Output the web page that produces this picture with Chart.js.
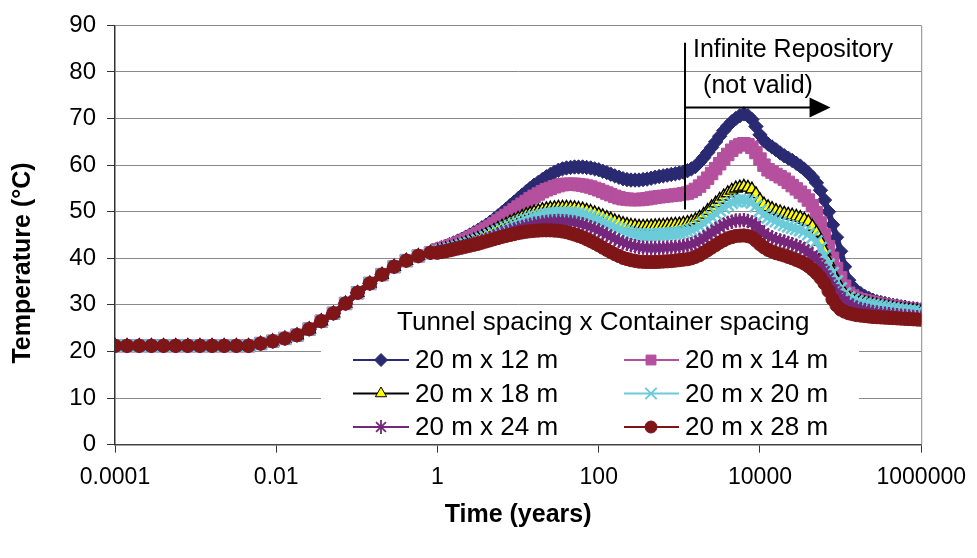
<!DOCTYPE html>
<html>
<head>
<meta charset="utf-8">
<script src="https://cdn.jsdelivr.net/npm/chart.js@4.4.1/dist/chart.umd.min.js"></script>
<style>
html,body{margin:0;padding:0;background:#fff;}
#wrap{width:977px;height:558px;position:relative;}
</style>
</head>
<body>
<div id="wrap"><canvas id="c" width="977" height="558"></canvas></div>
<script>
// ---------- DATA ----------
const times = [
  0.0001, 0.000141, 0.0002, 0.000283, 0.0004, 0.000566, 0.0008, 0.00113, 0.0016, 0.00226,
  0.0032, 0.00453, 0.0064, 0.00905, 0.0128, 0.0181, 0.0256, 0.0362, 0.0512, 0.0724,
  0.102, 0.145, 0.205, 0.29, 0.41, 0.579, 0.819,
  1, 1.12, 1.26, 1.41, 1.58, 1.78, 2, 2.24, 2.51, 2.82, 3.16, 3.55, 3.98, 4.47, 5.01, 5.62, 6.31, 7.08, 7.94, 8.91,
  10, 11.2, 12.6, 14.1, 15.8, 17.8, 20, 22.4, 25.1, 28.2, 31.6, 35.5, 39.8, 44.7, 50.1, 56.2, 63.1, 70.8, 79.4, 89.1,
  100, 112, 126, 141, 158, 178, 200, 224, 251, 282, 316, 355, 398, 447, 501, 562, 631, 708, 794, 891,
  1000, 1120, 1260, 1410, 1580, 1780, 2000, 2240, 2510, 2820, 3160, 3550, 3980, 4470, 5010, 5620, 6310, 7080, 7940, 8910,
  10000, 11200, 12600, 14100, 15800, 17800, 20000, 22400, 25100, 28200, 31600, 35500, 39800, 44700, 50100, 56200, 63100, 70800, 79400, 89100,
  100000, 112000, 126000, 141000, 158000, 178000, 200000, 224000, 251000, 282000, 316000, 355000, 398000, 447000, 501000, 562000, 631000, 708000, 794000, 891000,
  1000000
];

// shared heating phase (all layouts identical before ~1 year)
const earlyTemps = [
  21.2, 21.2, 21.2, 21.2, 21.2, 21.2, 21.2, 21.2, 21.2, 21.2,
  21.2, 21.2, 21.7, 22.2, 22.8, 23.5, 24.8, 26.5, 28.2, 30.3,
  32.6, 34.6, 36.5, 38.2, 39.5, 40.5, 41.2
];

const temp12 = earlyTemps.concat([
  42.0, 42.3, 42.6, 42.95, 43.3, 43.7, 44.1, 44.55, 45.0, 45.5, 46.0, 46.55, 47.1, 47.75, 48.4, 49.1, 49.8, 50.55, 51.3, 52.05,
  52.8, 53.55, 54.3, 55.0, 55.7, 56.3, 56.9, 57.5, 58.0, 58.5, 58.9, 59.2, 59.4, 59.5, 59.6, 59.6, 59.6, 59.5, 59.4, 59.2,
  59.0, 58.7, 58.4, 58.05, 57.7, 57.4, 57.1, 56.9, 56.8, 56.8, 56.8, 56.9, 57.0, 57.2, 57.4, 57.55, 57.7, 57.85, 58.0, 58.15,
  58.3, 58.5, 58.8, 59.2, 59.7, 60.6, 61.6, 62.7, 63.8, 65.0, 66.2, 67.4, 68.4, 69.3, 70.0, 70.6, 71.0, 70.6, 69.8, 68.3,
  66.5, 65.3, 64.5, 63.9, 63.3, 62.6, 62.0, 61.5, 61.0, 60.4, 59.8, 59.1, 58.3, 57.4, 56.2, 54.6, 52.5, 50.0, 47.2, 44.5,
  41.5, 38.2, 35.3, 33.9, 33.0, 32.4, 31.8, 31.4, 31.0, 30.7, 30.5, 30.3, 30.1, 29.9, 29.8, 29.6, 29.5, 29.3, 29.2, 29.1,
  29.0
]);
const temp14 = earlyTemps.concat([
  41.8, 42.05, 42.3, 42.6, 42.9, 43.25, 43.6, 44.0, 44.4, 44.85, 45.3, 45.8, 46.3, 46.85, 47.4, 48.0, 48.6, 49.2, 49.8, 50.4,
  51.0, 51.6, 52.2, 52.8, 53.3, 53.8, 54.3, 54.7, 55.0, 55.35, 55.6, 55.8, 55.9, 55.9, 55.9, 55.8, 55.7, 55.5, 55.3, 55.0,
  54.7, 54.35, 54.0, 53.65, 53.3, 53.0, 52.8, 52.7, 52.6, 52.6, 52.6, 52.7, 52.8, 52.95, 53.1, 53.2, 53.3, 53.4, 53.5, 53.6,
  53.7, 53.85, 54.0, 54.35, 54.8, 55.5, 56.3, 57.2, 58.2, 59.25, 60.3, 61.35, 62.3, 63.2, 63.9, 64.35, 64.6, 64.4, 63.8, 62.7,
  61.3, 60.0, 59.0, 58.5, 58.0, 57.5, 57.0, 56.3, 55.6, 54.9, 54.2, 53.4, 52.5, 51.3, 49.8, 47.6, 45.0, 42.5, 40.0, 37.8,
  35.8, 34.0, 32.5, 31.9, 31.4, 31.1, 30.9, 30.7, 30.5, 30.3, 30.1, 29.95, 29.8, 29.65, 29.5, 29.35, 29.2, 29.1, 29.0, 28.9,
  28.8
]);
const temp18 = earlyTemps.concat([
  41.5, 41.7, 41.9, 42.15, 42.4, 42.65, 42.9, 43.2, 43.5, 43.85, 44.2, 44.6, 45.0, 45.45, 45.9, 46.35, 46.8, 47.25, 47.7, 48.1,
  48.5, 48.9, 49.3, 49.6, 49.9, 50.15, 50.4, 50.55, 50.7, 50.8, 50.9, 50.9, 50.9, 50.85, 50.8, 50.65, 50.5, 50.25, 50.0, 49.7,
  49.4, 49.05, 48.7, 48.35, 48.0, 47.7, 47.4, 47.2, 47.0, 46.9, 46.8, 46.8, 46.8, 46.85, 46.9, 46.95, 47.0, 47.1, 47.2, 47.25,
  47.3, 47.45, 47.6, 47.85, 48.2, 48.75, 49.4, 50.2, 51.0, 51.8, 52.6, 53.3, 54.0, 54.55, 55.0, 55.25, 55.4, 55.2, 54.8, 53.8,
  52.5, 51.6, 51.0, 50.6, 50.2, 49.9, 49.6, 49.4, 49.2, 48.95, 48.7, 48.3, 47.8, 46.8, 45.5, 43.6, 41.5, 39.2, 37.0, 35.1,
  33.5, 32.4, 31.6, 31.2, 30.8, 30.6, 30.4, 30.2, 30.0, 29.85, 29.7, 29.55, 29.4, 29.25, 29.1, 29.0, 28.9, 28.8, 28.7, 28.6,
  28.5
]);
const temp20 = earlyTemps.concat([
  41.4, 41.6, 41.8, 42.0, 42.2, 42.45, 42.7, 42.95, 43.2, 43.5, 43.8, 44.15, 44.5, 44.9, 45.3, 45.7, 46.1, 46.5, 46.9, 47.25,
  47.6, 47.95, 48.3, 48.6, 48.9, 49.1, 49.3, 49.45, 49.6, 49.7, 49.8, 49.8, 49.8, 49.75, 49.7, 49.55, 49.4, 49.15, 48.9, 48.55,
  48.2, 47.8, 47.4, 47.0, 46.6, 46.25, 45.9, 45.65, 45.4, 45.25, 45.1, 45.05, 45.0, 45.05, 45.1, 45.15, 45.2, 45.25, 45.3, 45.4,
  45.5, 45.65, 45.8, 46.05, 46.4, 46.9, 47.5, 48.2, 48.9, 49.6, 50.3, 50.9, 51.5, 51.95, 52.3, 52.45, 52.5, 52.3, 52.0, 51.2,
  50.2, 49.4, 48.8, 48.4, 48.0, 47.6, 47.2, 46.9, 46.6, 46.35, 46.1, 45.7, 45.2, 44.5, 43.6, 42.2, 40.5, 38.6, 36.8, 35.0,
  33.5, 32.4, 31.6, 31.1, 30.7, 30.45, 30.2, 30.05, 29.9, 29.75, 29.6, 29.45, 29.3, 29.15, 29.0, 28.9, 28.8, 28.7, 28.6, 28.5,
  28.4
]);
const temp24 = earlyTemps.concat([
  41.3, 41.45, 41.6, 41.8, 42.0, 42.2, 42.4, 42.65, 42.9, 43.15, 43.4, 43.7, 44.0, 44.3, 44.6, 44.95, 45.3, 45.6, 45.9, 46.2,
  46.5, 46.75, 47.0, 47.2, 47.4, 47.55, 47.7, 47.8, 47.9, 47.95, 48.0, 47.95, 47.9, 47.8, 47.7, 47.5, 47.3, 47.0, 46.7, 46.35,
  46.0, 45.55, 45.1, 44.65, 44.2, 43.8, 43.4, 43.1, 42.8, 42.6, 42.4, 42.3, 42.2, 42.2, 42.2, 42.25, 42.3, 42.35, 42.4, 42.45,
  42.5, 42.65, 42.8, 43.0, 43.3, 43.8, 44.3, 44.9, 45.5, 46.1, 46.7, 47.15, 47.6, 47.85, 48.1, 48.15, 48.2, 48.0, 47.7, 46.9,
  46.0, 45.35, 44.8, 44.45, 44.1, 43.85, 43.6, 43.3, 43.0, 42.7, 42.4, 41.9, 41.3, 40.6, 39.8, 38.6, 37.2, 35.7, 34.2, 32.8,
  31.6, 30.8, 30.2, 29.8, 29.4, 29.15, 28.9, 28.7, 28.5, 28.35, 28.2, 28.1, 28.0, 27.9, 27.8, 27.7, 27.6, 27.5, 27.4, 27.35,
  27.3
]);
const temp28 = earlyTemps.concat([
  41.2, 41.35, 41.5, 41.7, 41.9, 42.1, 42.3, 42.5, 42.7, 42.9, 43.1, 43.35, 43.6, 43.85, 44.1, 44.35, 44.6, 44.8, 45.0, 45.2,
  45.4, 45.55, 45.7, 45.8, 45.9, 45.95, 46.0, 46.0, 46.0, 45.95, 45.9, 45.75, 45.6, 45.35, 45.1, 44.8, 44.5, 44.1, 43.7, 43.25,
  42.8, 42.3, 41.8, 41.35, 40.9, 40.5, 40.1, 39.85, 39.6, 39.45, 39.3, 39.25, 39.2, 39.2, 39.2, 39.25, 39.3, 39.35, 39.4, 39.5,
  39.6, 39.7, 39.8, 40.0, 40.3, 40.7, 41.2, 41.75, 42.3, 42.85, 43.4, 43.85, 44.3, 44.55, 44.8, 44.85, 44.9, 44.75, 44.5, 43.8,
  43.0, 42.35, 41.8, 41.45, 41.1, 40.85, 40.6, 40.3, 40.0, 39.65, 39.3, 38.85, 38.3, 37.6, 36.8, 35.8, 34.6, 33.0, 31.2, 29.9,
  29.0, 28.55, 28.2, 28.0, 27.8, 27.7, 27.6, 27.5, 27.4, 27.35, 27.3, 27.25, 27.2, 27.15, 27.1, 27.05, 27.0, 26.95, 26.9, 26.85,
  26.8
]);

const seriesLabels = ['20 m x 12 m', '20 m x 14 m', '20 m x 18 m', '20 m x 20 m', '20 m x 24 m', '20 m x 28 m'];
const xTickValues = [0.0001, 0.01, 1, 100, 10000, 1000000];
const xTickLabels = ['0.0001', '0.01', '1', '100', '10000', '1000000'];
const xTitle = 'Time (years)';
const yTitle = 'Temperature (°C)';
const legendTitle = 'Tunnel spacing x Container spacing';
const annotationTime = 1170;           // years, vertical marker
const annotationTop = 86.3;            // °C
const annotationBottom = 50.5;         // °C
const arrowLevel = 72.4;               // °C
const arrowEndTime = 75000;            // years
const annotationLines = ['Infinite Repository', '(not valid)'];

// ---------- STYLES ----------
const FONT = '"Liberation Sans", Arial, sans-serif';
// r = marker radius in the plot, lr = marker radius in the legend
const styles = [
  {color: '#2A2A72', fill: '#2A2A72', point: 'rectRot', r: 7.2, lr: 6.5, bw: 1},
  {color: '#B5509E', fill: '#B5509E', point: 'rect', r: 8.8, lr: 7, bw: 1},
  {color: '#000000', fill: '#FFFF00', point: 'triangle', r: 7.2, lr: 6.5, bw: 1.4},
  {color: '#6CCBD9', fill: '#6CCBD9', point: 'crossRot', r: 8.6, lr: 8, bw: 2.6},
  {color: '#75277B', fill: '#75277B', point: 'star', r: 7.2, lr: 7, bw: 2.2},
  {color: '#7E1517', fill: '#7E1517', point: 'circle', r: 6.6, lr: 6, bw: 1}
];
const seriesValues = [temp12, temp14, temp18, temp20, temp24, temp28];

const datasets = seriesValues.map((vals, i) => ({
  label: seriesLabels[i],
  data: times.map((t, j) => ({x: t, y: vals[j]})),
  borderColor: styles[i].color,
  backgroundColor: styles[i].fill,
  pointBackgroundColor: styles[i].fill,
  pointBorderColor: styles[i].color,
  pointStyle: styles[i].point,
  pointRadius: styles[i].r,
  pointHoverRadius: styles[i].r,
  pointBorderWidth: styles[i].bw,
  borderWidth: 6,
  borderJoinStyle: 'round',
  borderCapStyle: 'round',
  tension: 0,
  fill: false,
  order: 6 - i
}));

function drawMarker(ctx, st, x, y) {
  const r = st.lr;
  ctx.save();
  ctx.fillStyle = st.fill;
  ctx.strokeStyle = st.color;
  ctx.lineWidth = Math.min(st.bw, 2);
  ctx.beginPath();
  if (st.point === 'circle') {
    ctx.arc(x, y, r, 0, Math.PI * 2);
    ctx.fill(); ctx.stroke();
  } else if (st.point === 'rect') {
    const s = r * Math.SQRT1_2;
    ctx.rect(x - s, y - s, 2 * s, 2 * s);
    ctx.fill(); ctx.stroke();
  } else if (st.point === 'rectRot') {
    ctx.moveTo(x, y - r); ctx.lineTo(x + r, y); ctx.lineTo(x, y + r); ctx.lineTo(x - r, y); ctx.closePath();
    ctx.fill(); ctx.stroke();
  } else if (st.point === 'triangle') {
    ctx.lineWidth = 1;
    ctx.moveTo(x, y - r);
    ctx.lineTo(x + r * Math.sin(Math.PI * 2 / 3), y - r * Math.cos(Math.PI * 2 / 3));
    ctx.lineTo(x - r * Math.sin(Math.PI * 2 / 3), y - r * Math.cos(Math.PI * 2 / 3));
    ctx.closePath();
    ctx.fill(); ctx.stroke();
  } else if (st.point === 'crossRot') {
    const d = r * Math.SQRT1_2;
    ctx.moveTo(x - d, y - d); ctx.lineTo(x + d, y + d);
    ctx.moveTo(x + d, y - d); ctx.lineTo(x - d, y + d);
    ctx.stroke();
  } else if (st.point === 'star') {
    const d = r * Math.SQRT1_2;
    ctx.lineWidth = 1.8;
    ctx.moveTo(x - d, y - d); ctx.lineTo(x + d, y + d);
    ctx.moveTo(x + d, y - d); ctx.lineTo(x - d, y + d);
    ctx.moveTo(x, y - r); ctx.lineTo(x, y + r);
    ctx.moveTo(x - r, y); ctx.lineTo(x + r, y);
    ctx.stroke();
  }
  ctx.restore();
}

const decorPlugin = {
  id: 'decor',
  beforeDatasetsDraw(chart) {
    const ctx = chart.ctx;
    const a = chart.chartArea;
    ctx.save();
    // right border of plot area
    ctx.strokeStyle = '#888';
    ctx.lineWidth = 1;
    ctx.beginPath();
    ctx.moveTo(a.right + 0.5, a.top);
    ctx.lineTo(a.right + 0.5, a.bottom);
    ctx.stroke();
    // y axis title
    ctx.fillStyle = '#000';
    ctx.font = 'bold 25px ' + FONT;
    ctx.textAlign = 'center';
    ctx.textBaseline = 'middle';
    ctx.translate(23, 263);
    ctx.rotate(-Math.PI / 2);
    ctx.fillText(yTitle, 0, 0);
    ctx.setTransform(1, 0, 0, 1, 0, 0);
    // legend box
    const lx = 321, ly = 338, lw = 538, lh = 105;
    ctx.fillStyle = '#fff';
    ctx.fillRect(lx, ly, lw, lh);
    ctx.fillStyle = '#000';
    ctx.font = '26px ' + FONT;
    ctx.textBaseline = 'middle';
    ctx.textAlign = 'left';
    ctx.fillText(legendTitle, 397, 323);
    const cols = [{l0: 353, l1: 409, m: 381, t: 415}, {l0: 624, l1: 679, m: 651, t: 685}];
    const rows = [360, 393.5, 427];
    for (let i = 0; i < seriesLabels.length; i++) {
      const c = cols[i % 2], y = rows[Math.floor(i / 2)];
      ctx.strokeStyle = styles[i].color;
      ctx.lineWidth = 2;
      ctx.beginPath();
      ctx.moveTo(c.l0, y); ctx.lineTo(c.l1, y);
      ctx.stroke();
      drawMarker(ctx, styles[i], c.m, y);
      ctx.fillStyle = '#000';
      ctx.fillText(seriesLabels[i], c.t, y + 1);
    }
    ctx.restore();
  },
  afterDatasetsDraw(chart) {
    const ctx = chart.ctx;
    const xs = chart.scales.x, ys = chart.scales.y;
    const x0 = Math.round(xs.getPixelForValue(annotationTime));
    const yTop = ys.getPixelForValue(annotationTop);
    const yBot = ys.getPixelForValue(annotationBottom);
    const yArr = ys.getPixelForValue(arrowLevel);
    const xTip = xs.getPixelForValue(arrowEndTime);
    ctx.save();
    ctx.strokeStyle = '#000';
    ctx.fillStyle = '#000';
    ctx.lineWidth = 2;
    ctx.beginPath();
    ctx.moveTo(x0, yTop); ctx.lineTo(x0, yBot);
    ctx.moveTo(x0, yArr); ctx.lineTo(xTip - 20, yArr);
    ctx.stroke();
    ctx.beginPath();
    ctx.moveTo(xTip, yArr);
    ctx.lineTo(xTip - 21, yArr - 10);
    ctx.lineTo(xTip - 21, yArr + 10);
    ctx.closePath();
    ctx.fill();
    ctx.font = '25px ' + FONT;
    ctx.textBaseline = 'middle';
    ctx.textAlign = 'left';
    ctx.fillText(annotationLines[0], x0 + 8, yTop + 7);
    ctx.textAlign = 'center';
    ctx.fillText(annotationLines[1], x0 + 73, yArr - 21);
    ctx.restore();
  }
};

new Chart(document.getElementById('c'), {
  type: 'line',
  data: {datasets},
  options: {
    responsive: false,
    animation: false,
    devicePixelRatio: 1,
    events: [],
    layout: {padding: {left: 5, top: 21, right: 52, bottom: 20}},
    plugins: {legend: {display: false}, tooltip: {enabled: false}, title: {display: false}},
    scales: {
      x: {
        type: 'logarithmic',
        position: 'bottom',
        min: 0.0001,
        max: 1000000,
        afterBuildTicks: s => { s.ticks = xTickValues.map(v => ({value: v, major: true})); },
        afterFit: s => { s.height = 93.4; },
        ticks: {
          autoSkip: false, maxRotation: 0, color: '#000', padding: 11,
          font: {family: FONT, size: 23},
          callback: v => { const k = xTickValues.indexOf(v); return k >= 0 ? xTickLabels[k] : ''; }
        },
        grid: {drawOnChartArea: false, drawTicks: true, tickLength: 8, color: '#333', lineWidth: 1},
        border: {color: '#444', width: 1.5},
        title: {display: true, text: xTitle, color: '#000',
                font: {family: FONT, size: 25, weight: 'bold'}, padding: {top: 0, bottom: 8}}
      },
      y: {
        type: 'linear',
        min: 0,
        max: 90,
        afterFit: s => { s.width = 110; },
        ticks: {stepSize: 10, color: '#000', padding: 11, font: {family: FONT, size: 24}},
        grid: {color: '#8a8a8a', lineWidth: 1, tickLength: 8, tickColor: '#333'},
        border: {color: '#333', width: 1.5},
        title: {display: false, text: yTitle}
      }
    }
  },
  plugins: [decorPlugin]
});
</script>
</body>
</html>
